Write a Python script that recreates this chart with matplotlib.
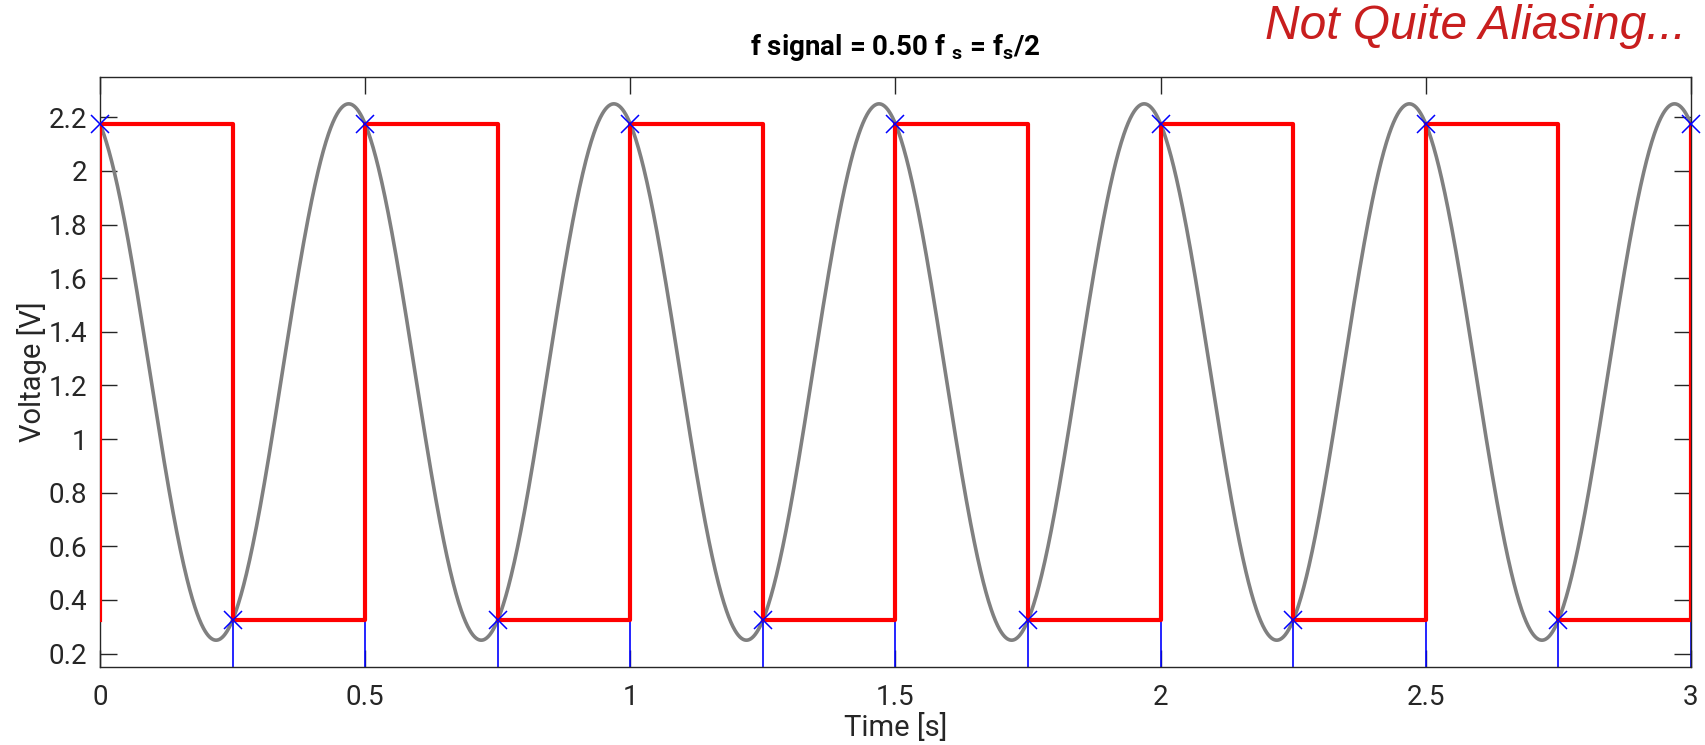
import numpy as np
import matplotlib
matplotlib.use("Agg")
import matplotlib.pyplot as plt
from matplotlib.ticker import FuncFormatter

# Continuous signal parameters
signal_freq = 2.0        # Hz
sample_rate = 4.0        # Hz
signal_offset = 1.25     # V
signal_amp = 1.0         # V
signal_phase = 0.39      # rad
t_end = 3.0

# Sampled values (alternating high/low at fs = 2 f)
sample_times = [0.0, 0.25, 0.5, 0.75, 1.0, 1.25, 1.5, 1.75, 2.0, 2.25, 2.5, 2.75, 3.0]
sample_values = [2.175, 0.325, 2.175, 0.325, 2.175, 0.325, 2.175,
                 0.325, 2.175, 0.325, 2.175, 0.325, 2.175]
hold_start_value = 0.325

xticks = [0, 0.5, 1, 1.5, 2, 2.5, 3]
yticks = [0.2, 0.4, 0.6, 0.8, 1.0, 1.2, 1.4, 1.6, 1.8, 2.0, 2.2]
ylims = (0.15, 2.35)

plt.rcParams['font.family'] = ['Roboto', 'DejaVu Sans']
plt.rcParams['mathtext.fontset'] = 'custom'
plt.rcParams['mathtext.rm'] = 'Roboto:bold'
plt.rcParams['mathtext.bf'] = 'Roboto:bold'
plt.rcParams['mathtext.it'] = 'Roboto:bold'

axcol = '#262626'

fig = plt.figure(figsize=(17.06, 7.45), dpi=100)
ax = fig.add_axes([0.0586, 0.1047, 0.9326, 0.7919])

# Analog signal
t = np.linspace(0, t_end, 3000)
v = signal_offset + signal_amp * np.cos(2 * np.pi * signal_freq * t + signal_phase)
ax.plot(t, v, color='#808080', lw=2.6, zorder=2)

# Sample stems (drawn under the hold trace)
ax.vlines(sample_times, ylims[0] - 1, sample_values, color='#0000ff', lw=1.2, zorder=2.5)

# Zero-order hold reconstruction
zx = [sample_times[0]] + sample_times
zy = [hold_start_value] + sample_values
ax.step(zx, zy, where='post', color='#ff0000', lw=3.0, zorder=3)

# Sample markers
ax.plot(sample_times, sample_values, 'x', color='#0000ff', ms=13, mew=1.1,
        zorder=5, clip_on=False)

ax.set_xlim(0, t_end)
ax.set_ylim(*ylims)
ax.set_xticks(xticks)
ax.set_yticks(yticks)
fmt = FuncFormatter(lambda val, pos: f"{val:g}")
ax.xaxis.set_major_formatter(fmt)
ax.yaxis.set_major_formatter(fmt)
ax.tick_params(direction='in', length=12, width=1, color=axcol, labelcolor=axcol,
               labelsize=20, top=True, right=True)
ax.tick_params(axis='x', pad=12)
ax.tick_params(axis='y', pad=9)
for s in ax.spines.values():
    s.set_color(axcol)
    s.set_linewidth(1.0)

ax.set_xlabel('Time [s]', fontsize=21, color=axcol, labelpad=2)
ax.set_ylabel('Voltage [V]', fontsize=21, color=axcol, labelpad=1)
ax.set_title('f signal = 0.50 f $_s$ = f$_s$/2', fontsize=20, fontweight='bold',
             color='black', pad=16)

fig.text(0.988, 0.995, 'Not Quite Aliasing...', ha='right', va='top',
         fontsize=34.5, style='italic', color='#c81e1e',
         family=['Liberation Sans', 'DejaVu Sans'])

fig.savefig('out.png', dpi=100)
